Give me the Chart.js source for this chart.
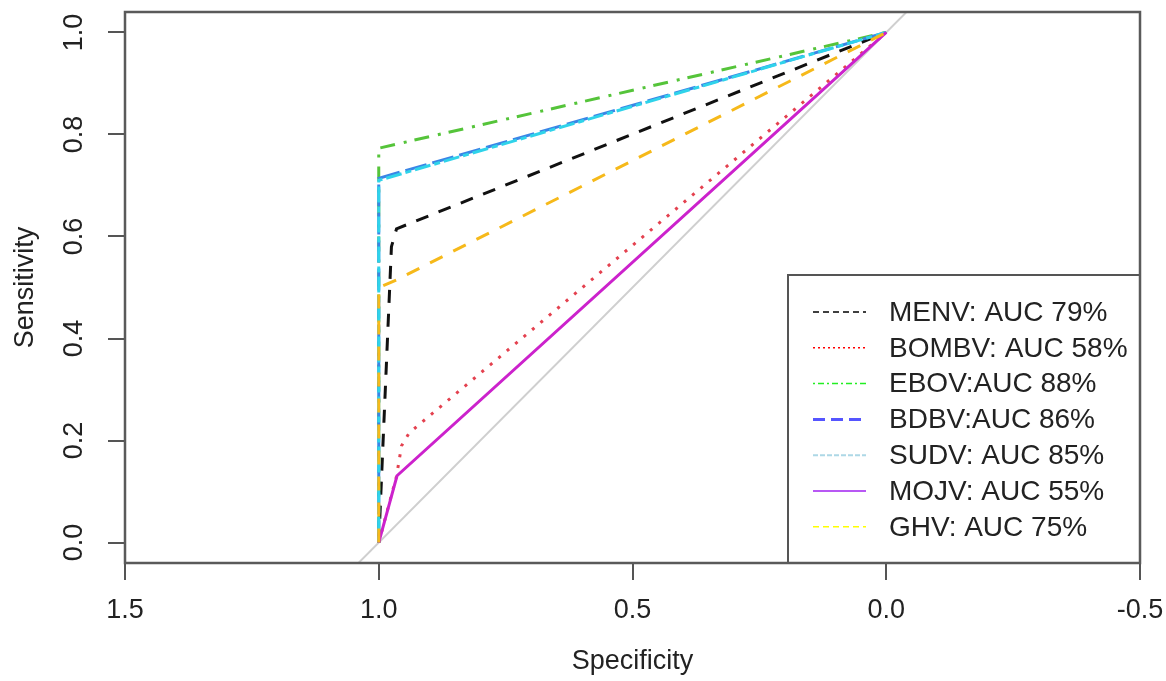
<!DOCTYPE html>
<html>
<head>
<meta charset="utf-8">
<script src="https://cdn.jsdelivr.net/npm/chart.js@4.4.1/dist/chart.umd.min.js"></script>
<style>
  html, body { margin: 0; padding: 0; background: #fff; }
  #wrap { width: 1166px; height: 681px; }
</style>
</head>
<body>
<div id="wrap"><canvas id="roc" width="1166" height="681"></canvas></div>
<script>
// ROC curves: specificity on x (reversed), sensitivity on y
const seriesNames = ['MENV: AUC 79%', 'BOMBV: AUC 58%', 'EBOV:AUC 88%', 'BDBV:AUC 86%', 'SUDV: AUC 85%', 'MOJV: AUC 55%', 'GHV: AUC 75%'];

const menvSpec = [1.0, 0.975, 0.965, 0.0];
const menvSens = [0.0, 0.58, 0.615, 1.0];
const bombvSpec = [1.0, 0.965, 0.955, 0.94, 0.0];
const bombvSens = [0.0, 0.13, 0.19, 0.215, 1.0];
const ebovSpec = [1.0, 1.0, 0.0];
const ebovSens = [0.0, 0.773, 1.0];
const bdbvSpec = [1.0, 1.0, 0.0];
const bdbvSens = [0.0, 0.714, 1.0];
const sudvSpec = [1.0, 1.0, 0.0];
const sudvSens = [0.0, 0.71, 1.0];
const mojvSpec = [1.0, 0.964, 0.0];
const mojvSens = [0.0, 0.131, 1.0];
const ghvSpec = [1.0, 1.0, 0.965, 0.0];
const ghvSens = [0.0, 0.5, 0.515, 1.0];

// reference diagonal (clipped to the plot box)
const diagSpec = [1.1, -0.1];
const diagSens = [-0.1, 1.1];

const xTicks = [1.5, 1.0, 0.5, 0.0, -0.5];
const yTicks = [0.0, 0.2, 0.4, 0.6, 0.8, 1.0];

// colours used for the curves, and the (different) ones shown in the legend
const curveColors = ['#111111', '#e4414f', '#55c43a', '#3a85e6', '#2fd3ea', '#cc22cc', '#f6b91a'];
const curveDashes = [[13, 11], [3, 8], [3, 8, 15, 9], [22, 6], [6, 4, 16, 4], [], [14, 12]];
const legendColors = ['#000000', '#ff0000', '#22ee22', '#5555ff', '#add8e6', '#a020f0', '#ffff00'];
const legendDashes = [[6, 4], [2, 3], [2, 3, 6, 3], [12, 6], [5, 2], [], [6, 4]];
const legendWidths = [1.5, 1.5, 1.5, 3, 2, 1.5, 1.5];

const specs = [menvSpec, bombvSpec, ebovSpec, bdbvSpec, sudvSpec, mojvSpec, ghvSpec];
const senss = [menvSens, bombvSens, ebovSens, bdbvSens, sudvSens, mojvSens, ghvSens];

const toPoints = (xs, ys) => xs.map((x, i) => ({ x: x, y: ys[i] }));

const datasets = [{
  label: 'diag',
  data: toPoints(diagSpec, diagSens),
  borderColor: '#cfcfcf',
  borderWidth: 2,
  pointRadius: 0,
  order: 100
}];
seriesNames.forEach((name, i) => {
  datasets.push({
    label: name,
    data: toPoints(specs[i], senss[i]),
    borderColor: curveColors[i],
    borderDash: curveDashes[i],
    borderWidth: 3,
    pointRadius: 0,
    order: 20 - i // later series drawn on top, as in R
  });
});

const txt = '#222222';
const fontFam = '"Liberation Sans", Arial, sans-serif';

// no extra padding for overhanging tick labels
function noPad(s) {
  s.paddingTop = 0; s.paddingBottom = 0; s.paddingLeft = 0; s.paddingRight = 0;
}

// plot box + legend
const boxPlugin = {
  id: 'boxPlugin',
  afterDraw(chart) {
    const { ctx, chartArea: a } = chart;
    ctx.save();
    // legend
    const lw = 352, lh = 288;
    const lx = a.right - lw, ly = a.bottom - lh;
    ctx.fillStyle = '#fff';
    ctx.fillRect(lx, ly, lw, lh);
    ctx.strokeStyle = '#555';
    ctx.lineWidth = 2;
    ctx.strokeRect(lx, ly, lw, lh);
    ctx.font = '28px ' + fontFam;
    ctx.textBaseline = 'middle';
    ctx.textAlign = 'left';
    seriesNames.forEach((name, i) => {
      const y = ly + 37 + i * 35.8;
      ctx.beginPath();
      ctx.setLineDash(legendDashes[i]);
      ctx.strokeStyle = legendColors[i];
      ctx.lineWidth = legendWidths[i];
      ctx.moveTo(lx + 25, y);
      ctx.lineTo(lx + 78, y);
      ctx.stroke();
      ctx.setLineDash([]);
      ctx.fillStyle = txt;
      ctx.fillText(name, lx + 101, y + 1);
    });
    // box
    ctx.strokeStyle = '#5a5a5a';
    ctx.lineWidth = 2.5;
    ctx.strokeRect(a.left, a.top, a.right - a.left, a.bottom - a.top);
    ctx.restore();
  }
};

new Chart(document.getElementById('roc'), {
  type: 'line',
  data: { datasets: datasets },
  plugins: [boxPlugin],
  options: {
    responsive: false,
    animation: false,
    layout: { padding: { top: 12, right: 26, left: 0, bottom: 0 } },
    plugins: { legend: { display: false }, tooltip: { enabled: false } },
    scales: {
      x: {
        type: 'linear',
        reverse: true,
        min: -0.5,
        max: 1.5,
        afterBuildTicks: s => { s.ticks = xTicks.map(v => ({ value: v })); },
        afterFit: s => { s.height = 118; noPad(s); },
        grid: { drawOnChartArea: false, drawTicks: true, tickLength: 17, color: '#555', lineWidth: 2 },
        border: { display: false },
        ticks: {
          color: txt, padding: 14, maxRotation: 0, autoSkip: false,
          font: { size: 27, family: fontFam },
          callback: v => v.toFixed(1)
        },
        title: { display: true, text: 'Specificity', color: txt, font: { size: 27, family: fontFam }, padding: { top: 0, bottom: 3 } }
      },
      y: {
        type: 'linear',
        min: -0.04,
        max: 1.04,
        afterBuildTicks: s => { s.ticks = yTicks.map(v => ({ value: v })); },
        afterFit: s => { s.width = 125; noPad(s); },
        grid: { drawOnChartArea: false, drawTicks: true, tickLength: 17, color: '#555', lineWidth: 2 },
        border: { display: false },
        ticks: {
          color: txt, padding: 15, minRotation: 90, maxRotation: 90, crossAlign: 'center', autoSkip: false,
          font: { size: 27, family: fontFam },
          callback: v => v.toFixed(1)
        },
        title: { display: true, text: 'Sensitivity', color: txt, font: { size: 27, family: fontFam }, padding: { top: 9, bottom: 0 } }
      }
    }
  }
});
</script>
</body>
</html>
